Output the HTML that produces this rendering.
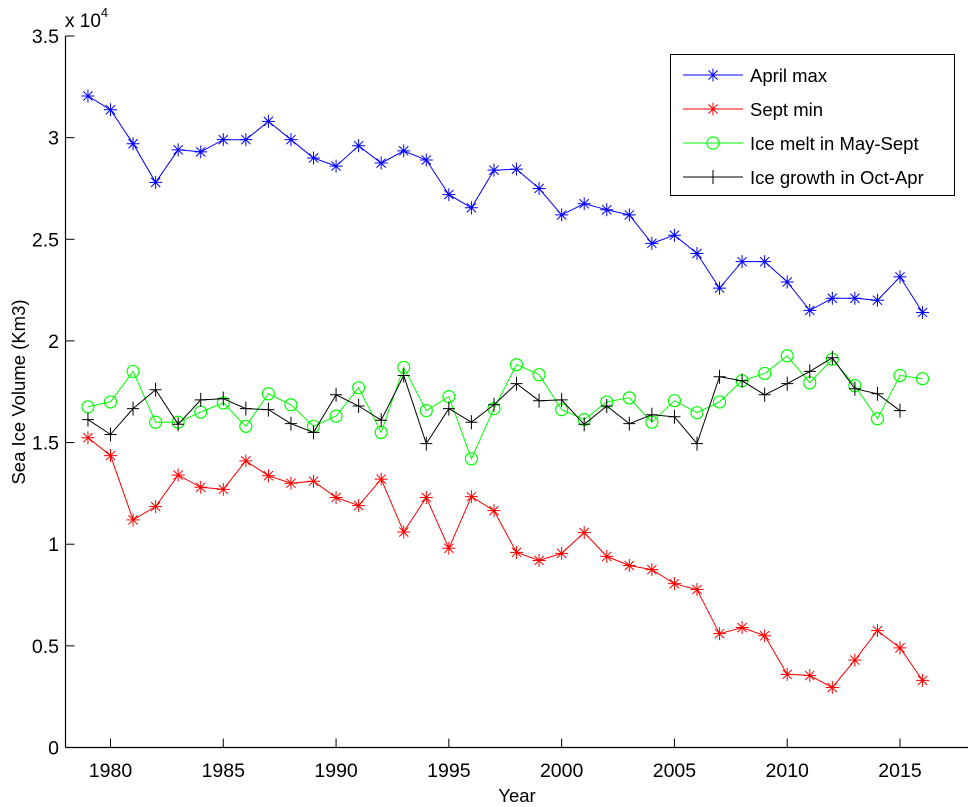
<!DOCTYPE html>
<html><head><meta charset="utf-8"><style>
html,body{margin:0;padding:0;background:#fff;}
svg{display:block;font-family:"Liberation Sans",Arial,sans-serif;}
</style></head><body>
<svg id="chart" width="972" height="807" viewBox="0 0 972 807" xmlns="http://www.w3.org/2000/svg">
<g id="axes"></g>
<g id="series"></g>
<g id="legend"></g>
</svg>
<script>
const years = [1979,1980,1981,1982,1983,1984,1985,1986,1987,1988,1989,1990,1991,1992,1993,1994,1995,1996,1997,1998,1999,2000,2001,2002,2003,2004,2005,2006,2007,2008,2009,2010,2011,2012,2013,2014,2015,2016];
const aprilMax = [3.205,3.137,2.97,2.78,2.94,2.93,2.99,2.99,3.08,2.99,2.90,2.86,2.96,2.875,2.935,2.89,2.72,2.655,2.84,2.845,2.75,2.62,2.675,2.645,2.62,2.48,2.52,2.43,2.26,2.39,2.39,2.29,2.15,2.21,2.21,2.20,2.315,2.14];
const septMin = [1.524,1.436,1.12,1.185,1.34,1.28,1.27,1.41,1.337,1.30,1.31,1.23,1.19,1.32,1.06,1.23,0.98,1.234,1.165,0.96,0.92,0.955,1.057,0.94,0.895,0.875,0.806,0.777,0.56,0.59,0.55,0.36,0.354,0.295,0.43,0.575,0.49,0.33];
const iceMelt = [1.676,1.70,1.85,1.60,1.60,1.65,1.695,1.58,1.74,1.686,1.58,1.63,1.77,1.55,1.87,1.657,1.726,1.42,1.667,1.883,1.834,1.662,1.613,1.70,1.72,1.60,1.706,1.647,1.70,1.804,1.84,1.927,1.794,1.91,1.78,1.617,1.83,1.814];
const iceGrowth = [1.613,1.54,1.667,1.76,1.59,1.71,1.716,1.667,1.662,1.593,1.55,1.735,1.68,1.61,1.83,1.495,1.667,1.60,1.686,1.79,1.706,1.71,1.59,1.68,1.593,1.637,1.627,1.495,1.824,1.804,1.735,1.79,1.85,1.917,1.765,1.74,1.657];
const xTicks = [1980,1985,1990,1995,2000,2005,2010,2015];
const yTicks = [0,0.5,1,1.5,2,2.5,3,3.5];
const yTickLabels = ["0","0.5","1","1.5","2","2.5","3","3.5"];

const NS="http://www.w3.org/2000/svg";
const X0=65.5, Y0=747.5, XR=968, YT=36;
function xs(v){return 110.5+(v-1980)*(900-110.5)/35;}
function ys(v){return Y0-v*(Y0-YT)/3.5;}
function mk(tag,attrs,parent){const e=document.createElementNS(NS,tag);for(const k in attrs)e.setAttribute(k,attrs[k]);parent.appendChild(e);return e;}
const axes=document.getElementById('axes');
const series=document.getElementById('series');
const legend=document.getElementById('legend');

let l=mk('line',{x1:X0,y1:YT,x2:X0,y2:Y0,stroke:'#000','stroke-width':1.2},axes);


l=mk('line',{x1:X0,y1:Y0,x2:XR,y2:Y0,stroke:'#000','stroke-width':1.2},axes);



xTicks.forEach(t=>{
  const x=xs(t);
  const tk=mk('line',{x1:x,y1:Y0,x2:x,y2:Y0-9,stroke:'#000','stroke-width':1},axes);
  
  
  const tx=mk('text',{x:x,y:777,'text-anchor':'middle','font-size':19.5},axes);
  tx.textContent=t;
  
  
});
yTicks.forEach((t,i)=>{
  const y=ys(t);
  const tk=mk('line',{x1:X0,y1:y,x2:X0+9,y2:y,stroke:'#000','stroke-width':1},axes);
  
  
  const tx=mk('text',{x:59,y:y+7,'text-anchor':'end','font-size':19.5},axes);
  tx.textContent=yTickLabels[i];
  
  
});
let t=mk('text',{x:65,y:27,'font-size':19},axes);
t.innerHTML='x 10<tspan dy="-10" font-size="13">4</tspan>';


t=mk('text',{x:517,y:802,'text-anchor':'middle','font-size':18.5},axes);
t.textContent='Year';


t=mk('text',{x:0,y:0,'text-anchor':'middle','font-size':18.5,transform:'translate(25,392) rotate(-90)'},axes);
t.textContent='Sea Ice Volume (Km3)';



function star(g,x,y,c){
  const r=6.5,d=4.6;
  mk('path',{d:`M${x-r},${y}H${x+r}M${x},${y-r}V${y+r}M${x-d},${y-d}L${x+d},${y+d}M${x-d},${y+d}L${x+d},${y-d}`,stroke:c,'stroke-width':1,fill:'none'},g);
}
function circ(g,x,y,c){mk('circle',{cx:x,cy:y,r:6,stroke:c,'stroke-width':1.2,fill:'none'},g);}
function plus(g,x,y,c){mk('path',{d:`M${x-6},${y}H${x+6}M${x},${y-7}V${y+7}`,stroke:c,'stroke-width':1,fill:'none'},g);}

const defs=[
 {vals:aprilMax,color:'#0000ff',marker:star,name:'april-max',label:'April max'},
 {vals:septMin,color:'#ff0000',marker:star,name:'sept-min',label:'Sept min'},
 {vals:iceMelt,color:'#00ff00',marker:circ,name:'ice-melt',label:'Ice melt in May-Sept'},
 {vals:iceGrowth,color:'#000000',marker:plus,name:'ice-growth',label:'Ice growth in Oct-Apr'}
];
const order=[2,3,0,1];
order.forEach(i=>{
  const s=defs[i];
  const g=mk('g',{},series);
  
  
  const pts=s.vals.map((v,j)=>xs(years[j]).toFixed(1)+','+ys(v).toFixed(1)).join(' ');
  const pl=mk('polyline',{points:pts,fill:'none',stroke:s.color,'stroke-width':1},g);
  
  
  s.vals.forEach((v,j)=>s.marker(g,xs(years[j]),ys(v),s.color));
});

const box=mk('rect',{x:670.5,y:54.5,width:284,height:141,fill:'#fff',stroke:'#000','stroke-width':1},legend);


const rows=[75,109,143,177];
defs.forEach((s,i)=>{
  const g=mk('g',{},legend);
  
  
  mk('line',{x1:683,y1:rows[i],x2:743,y2:rows[i],stroke:s.color,'stroke-width':1},g);
  s.marker(g,713,rows[i],s.color);
  const tx=mk('text',{x:750,y:rows[i]+7,'font-size':18.5},g);
  tx.textContent=s.label;
});
</script>
</body></html>
